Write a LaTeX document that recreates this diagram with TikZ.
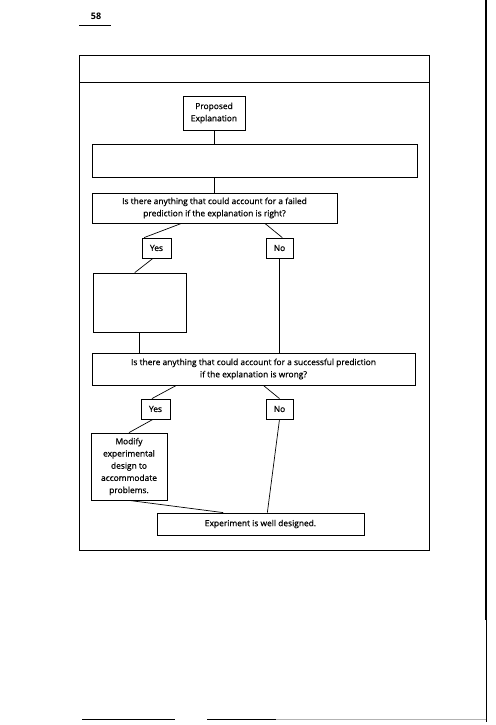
\documentclass[tikz,border=0pt]{standalone}
\usepackage{fontspec}
\setmainfont{Open Sans}
\newfontfamily\boxfont{Open Sans}[FakeBold=0.7]
\usepackage{tikz}
\tikzset{
  box/.style={draw,line width=0.8pt,inner sep=0pt,align=center,font=\boxfont\fontsize{8.4}{12.2}\selectfont},
  link/.style={draw,line width=0.7pt}
}

\begin{document}
\begin{tikzpicture}[x=1pt,y=-1pt]
              \useasboundingbox (0,0) rectangle (495,725);
              %\draw[help lines,step=50] (0,0) grid (495,725);
              \node[font=\bfseries\fontsize{9}{10}\selectfont] (pagenum) at (96,16) {58};
              \path[draw,line width=0.8pt] (79,25)--(111,25);
              \path[draw,line width=2pt] (486,0)--(486,620);
              \path[draw,line width=0.8pt] (486,620)--(486,722);
              \path[draw,line width=0.8pt] (82,719)--(175,719);
              \path[draw,line width=0.8pt] (207,719)--(276,719);
              \path[draw,line width=0.6pt,gray!60] (276,719.5)--(486,719.5);
              \path[draw,line width=0.8pt] (79,55)--(429,55)--(429,550)--(79,550)--cycle;
              \path[draw,line width=0.8pt] (79,82)--(429,82);
              \node[box,minimum width=62,minimum height=34] (prop) at (214,113) {Proposed\\Explanation};
              \node[box,minimum width=325,minimum height=33] (blank) at (254.5,160.5) {};
              \node[box,minimum width=245,minimum height=30] (qfail) at (214.5,208) {Is there anything that could account for a failed\\prediction if the explanation is right?};
              \node[box,minimum width=29,minimum height=20] (yesA) at (156.5,248) {Yes};
              \node[box,minimum width=27,minimum height=20] (noA) at (279.5,248) {No};
              \node[box,minimum width=93,minimum height=59] (blankB) at (139.5,302.5) {};
              \node[box,minimum width=323,minimum height=32] (qsucc) at (253.5,369) {Is there anything that could account for a successful prediction\\if the explanation is wrong?};
              \node[box,minimum width=29,minimum height=20] (yesB) at (155.5,409) {Yes};
              \node[box,minimum width=27,minimum height=20] (noB) at (279.5,409) {No};
              \node[box,minimum width=76,minimum height=67] (modify) at (129,466.5) {Modify\\experimental\\design to\\accommodate\\problems.};
              \node[box,minimum width=207,minimum height=22] (good) at (260.5,524) {Experiment is well designed.};
              \path[link] (prop.south)--(prop.south |- blank.north);
              \path[link] (prop.south |- blank.south)--(prop.south |- qfail.north);
              \path[link] (qfail.-155)--(yesA.140);
              \path[link] (qfail.-17.5)--(noA.75);
              \path[link] (yesA.-109)--(blankB.99);
              \path[link] (blankB.south)--(blankB.south |- qsucc.north);
              \path[link] (noA.south)--(noA.south |- qsucc.north);
              \path[link] (qsucc.192.6)--(yesB.109);
              \path[link] (qsucc.-59)--(noB.north);
              \path[link] (yesB.-104)--(modify.north);
              \path[link] (modify.south)--(good.163.7);
              \path[link] (noB.south)--(good.59.4);
            \end{tikzpicture}
\end{document}
